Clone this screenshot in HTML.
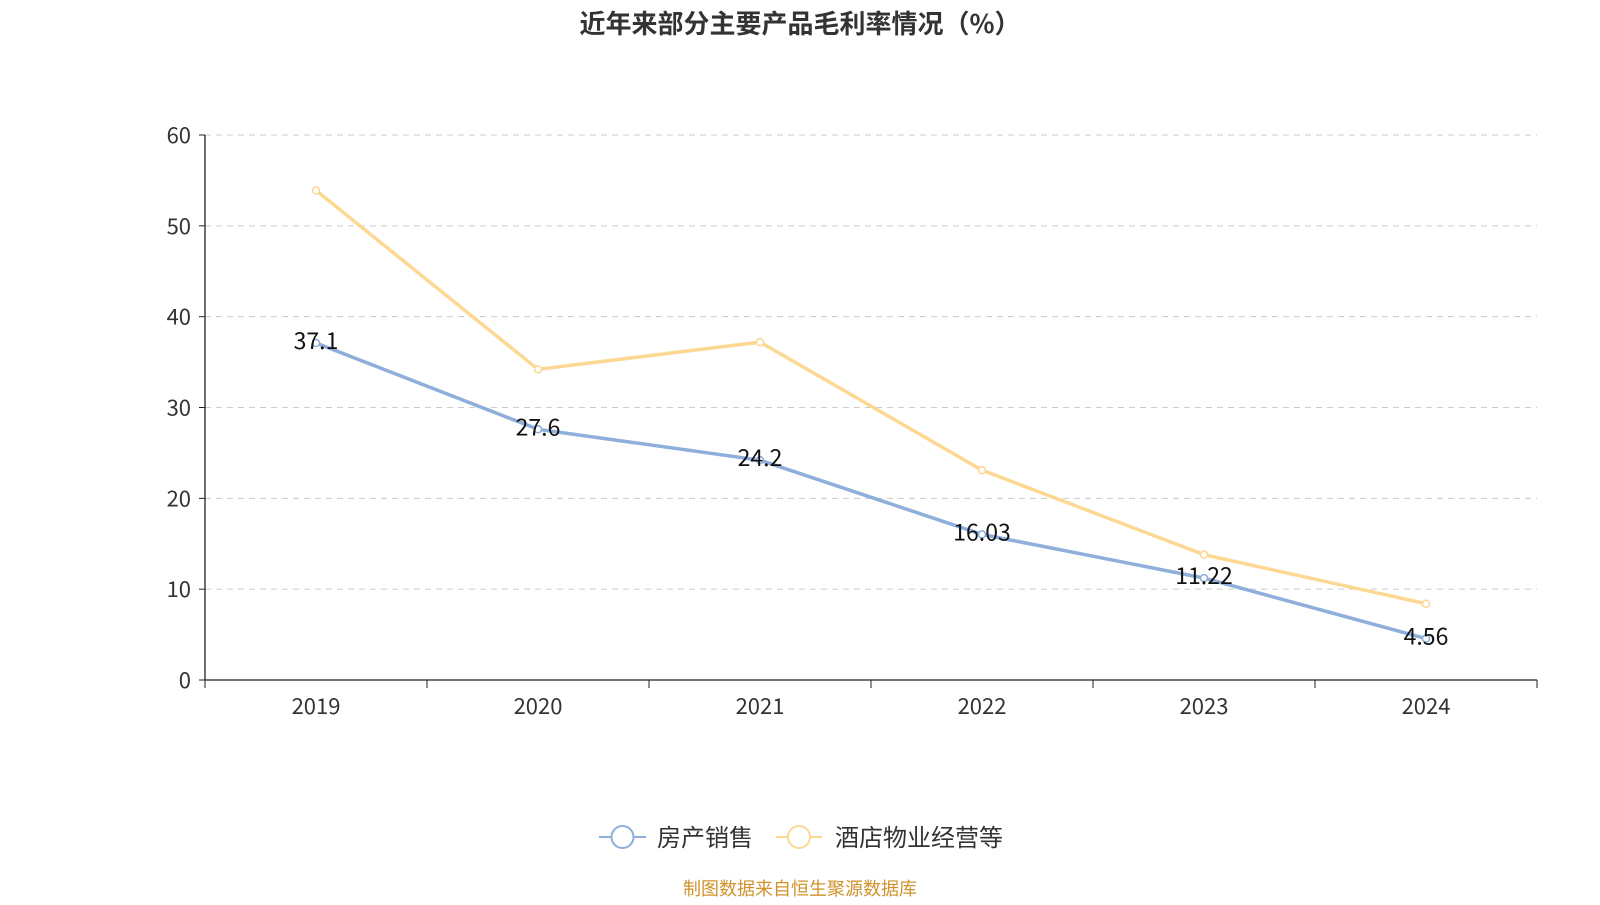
<!DOCTYPE html>
<html><head><meta charset="utf-8"><style>
body{margin:0;background:#fff;width:1600px;height:900px;overflow:hidden}
svg{font-family:"Noto Sans CJK SC","Liberation Sans",sans-serif}
</style></head><body>
<svg id="chart" width="1600" height="900">
<text x="800" y="33" text-anchor="middle" font-size="26" font-weight="bold" fill="#333">近年来部分主要产品毛利率情况（%）</text>
<g id="grid"></g><g id="axes"></g><g id="series"></g>
<g>
<g>
<line x1="599" y1="837" x2="646" y2="837" stroke="#8eaedb" stroke-width="2"/>
<circle cx="622.5" cy="837" r="11" fill="#fff" stroke="#8eaedb" stroke-width="2"/>
<text x="657" y="846" font-size="24" fill="#333">房产销售</text></g>
<g>
<line x1="776" y1="837" x2="822" y2="837" stroke="#fdd893" stroke-width="2"/>
<circle cx="799" cy="837" r="11" fill="#fff" stroke="#fdd893" stroke-width="2"/>
<text x="835" y="846" font-size="24" fill="#333">酒店物业经营等</text></g>
</g>
<text x="800" y="895" text-anchor="middle" font-size="18" fill="#d0922a">制图数据来自恒生聚源数据库</text>
</svg>
<script>
const categories=["2019","2020","2021","2022","2023","2024"];
const houseValues=[37.1,27.6,24.2,16.03,11.22,4.56];
const hotelValues=[53.9,34.2,37.2,23.1,13.8,8.4];
const yTicks=[0,10,20,30,40,50,60];
const NS="http://www.w3.org/2000/svg";
const L=205,R=1537,T=135,B=680,yMax=60;
const bw=(R-L)/categories.length;
const xs=i=>L+bw*(i+0.5);
const ys=v=>B-(v/yMax)*(B-T);
function mk(tag,attrs,parent){const e=document.createElementNS(NS,tag);for(const k in attrs)e.setAttribute(k,attrs[k]);parent.appendChild(e);return e;}
const grid=document.getElementById('grid'),axes=document.getElementById('axes'),ser=document.getElementById('series');
yTicks.forEach(t=>{const y=ys(t);
 if(t>0){const g=mk('line',{x1:L,x2:R,y1:y,y2:y,stroke:'#ccc','stroke-dasharray':'6,5'},grid);
 
 }
 mk('line',{x1:L-6,x2:L,y1:y,y2:y,stroke:'#222'},axes);
 const tx=mk('text',{x:L-14,y:y+8,'text-anchor':'end','font-size':22,fill:'#333'},axes);tx.textContent=t;
 
 
});
mk('line',{x1:L,x2:L,y1:T,y2:B,stroke:'#222','stroke-width':1.3},axes);
mk('line',{x1:L,x2:R,y1:B,y2:B,stroke:'#222','stroke-width':1.3},axes);
for(let i=0;i<=categories.length;i++){const x=L+bw*i;mk('line',{x1:x,x2:x,y1:B,y2:B+8,stroke:'#222'},axes);}
categories.forEach((c,i)=>{const tx=mk('text',{x:xs(i),y:714,'text-anchor':'middle','font-size':22,fill:'#333'},axes);tx.textContent=c;
 
 });
function drawSeries(vals,color,name,labels){
 const p=mk('polyline',{points:vals.map((v,i)=>xs(i)+','+ys(v)).join(' '),fill:'none',stroke:color,'stroke-width':3.5},ser);
 
 
 vals.forEach((v,i)=>{const c=mk('circle',{cx:xs(i),cy:ys(v),r:3.5,fill:'#fff',stroke:color,'stroke-width':1.5},ser);
  
  
  if(labels){const t=mk('text',{x:xs(i),y:ys(v)+6,'text-anchor':'middle','font-size':23,fill:'#111'},ser);t.textContent=v;
   
   }
 });
}
drawSeries(hotelValues,'#fdd893','hotel',false);
drawSeries(houseValues,'#8eaedb','house',true);
</script>
</body></html>
